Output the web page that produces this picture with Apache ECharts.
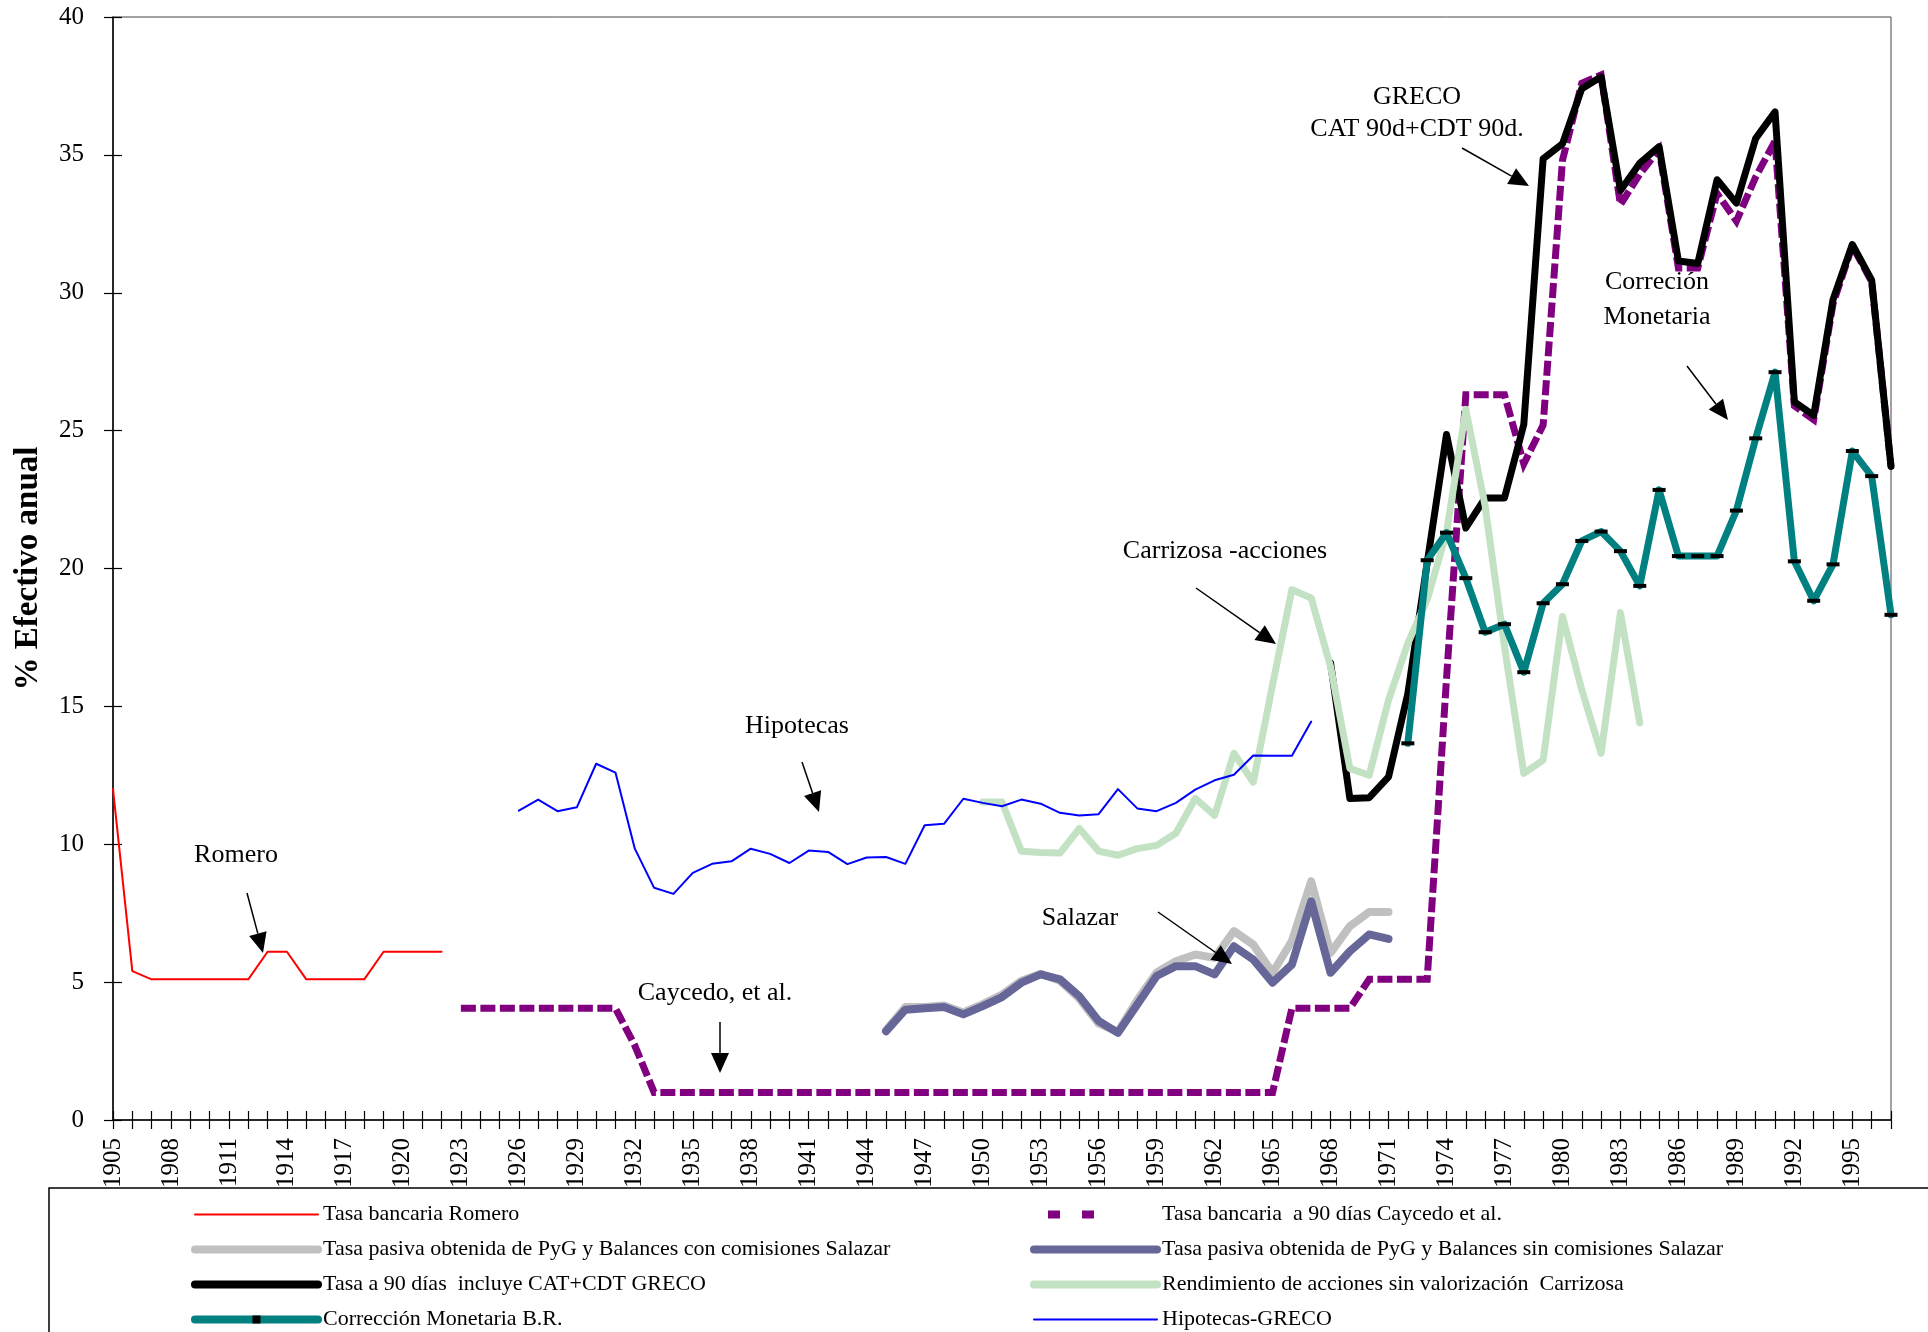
<!DOCTYPE html>
<html>
<head>
<meta charset="utf-8">
<title>Tasas de interés 1905-1997</title>
<script src="https://cdn.jsdelivr.net/npm/echarts@6/dist/echarts.min.js"></script>
<style>
  html, body { margin: 0; padding: 0; background: #fff; }
  #chart { width: 1928px; height: 1332px; }
</style>
</head>
<body>
<div id="chart"></div>
<script>
var firstYear = 1905;
var lastYear = 1997;
var years = [];
for (var y = firstYear; y <= lastYear; y++) years.push(String(y));

// Tasa bancaria Romero (1905-1922)
var romeroStart = 1905;
var romero = [12.0, 5.4, 5.1, 5.1, 5.1, 5.1, 5.1, 5.1, 6.1, 6.1,
              5.1, 5.1, 5.1, 5.1, 6.1, 6.1, 6.1, 6.1];

// Tasa bancaria a 90 dias Caycedo et al. (1923-1997)
var caycedoStart = 1923;
var caycedo = [4.05, 4.05, 4.05, 4.05, 4.05, 4.05, 4.05, 4.05, 4.05, 2.7,
               1.0, 1.0, 1.0, 1.0, 1.0, 1.0, 1.0, 1.0, 1.0, 1.0,
               1.0, 1.0, 1.0, 1.0, 1.0, 1.0, 1.0, 1.0, 1.0, 1.0,
               1.0, 1.0, 1.0, 1.0, 1.0, 1.0, 1.0, 1.0, 1.0, 1.0,
               1.0, 1.0, 1.0, 4.05, 4.05, 4.05, 4.05, 5.1, 5.1, 5.1,
               5.1, 16.0, 26.3, 26.3, 26.3, 23.8, 25.2, 34.8, 37.6, 37.9,
               33.2, 34.3, 35.2, 30.9, 30.9, 33.6, 32.6, 34.2, 35.5, 25.9,
               25.4, 29.6, 31.7, 30.4, 23.7];

// Salazar con comisiones (1945-1971)
var salazarConStart = 1945;
var salazarCon = [3.25, 4.1, 4.1, 4.15, 3.9, 4.2, 4.55, 5.05, 5.3, 5.05,
                  4.4, 3.5, 3.2, 4.35, 5.35, 5.76, 6.0, 5.88, 6.85, 6.36,
                  5.34, 6.49, 8.66, 6.06, 7.03, 7.54, 7.54];

// Salazar sin comisiones (1945-1971)
var salazarSinStart = 1945;
var salazarSin = [3.22, 4.0, 4.05, 4.1, 3.83, 4.13, 4.46, 4.98, 5.28, 5.1,
                  4.49, 3.59, 3.16, 4.19, 5.22, 5.58, 5.58, 5.28, 6.3, 5.82,
                  4.98, 5.64, 7.93, 5.34, 6.12, 6.73, 6.57];

// Tasa a 90 dias CAT+CDT GRECO (1968-1997)
var grecoStart = 1968;
var greco = [16.57, 11.66, 11.69, 12.44, 15.47, 20.2, 24.86, 21.47, 22.56, 22.56,
             25.23, 34.86, 35.4, 37.4, 37.83, 33.71, 34.7, 35.3, 31.15, 31.06,
             34.1, 33.25, 35.6, 36.56, 26.04, 25.55, 29.75, 31.75, 30.46, 23.7];

// Rendimiento de acciones Carrizosa (1950-1984)
var carrizosaStart = 1950;
var carrizosa = [11.53, 11.53, 9.75, 9.7, 9.68, 10.57, 9.75, 9.6, 9.84, 9.96,
                 10.4, 11.66, 11.05, 13.3, 12.25, 15.78, 19.23, 18.93, 16.44, 12.75,
                 12.5, 15.23, 17.29, 18.87, 21.3, 25.77, 22.26, 17.17, 12.57, 13.05,
                 18.26, 15.6, 13.3, 18.4, 14.4];

// Correccion Monetaria B.R. (1972-1997)
var correccionStart = 1972;
var correccion = [13.66, 20.3, 21.3, 19.65, 17.69, 17.98, 16.24, 18.74, 19.43, 21.0,
                  21.34, 20.63, 19.37, 22.85, 20.45, 20.45, 20.45, 22.1, 24.72, 27.12,
                  20.26, 18.83, 20.15, 24.26, 23.35, 18.32];

// Hipotecas GRECO (1926-1967)
var hipotecasStart = 1926;
var hipotecas = [11.22, 11.62, 11.2, 11.34, 12.92, 12.6, 9.84, 8.42, 8.2, 8.96,
                 9.29, 9.38, 9.84, 9.65, 9.32, 9.77, 9.72, 9.28, 9.52, 9.54,
                 9.29, 10.69, 10.74, 11.65, 11.5, 11.38, 11.62, 11.47, 11.14, 11.04,
                 11.09, 12.0, 11.3, 11.2, 11.5, 11.98, 12.32, 12.52, 13.22, 13.21,
                 13.21, 14.45];

var yTicks = { min: 0, max: 40, step: 5 };

// place a series that starts at a given year on the full year axis
function onYears(start, values) {
  var out = [];
  for (var i = 0; i < years.length; i++) {
    var k = firstYear + i - start;
    out.push(k >= 0 && k < values.length ? values[k] : null);
  }
  return out;
}

var serif = '"Liberation Serif", "Times New Roman", serif';

var names = {
  romero: 'Tasa bancaria Romero',
  caycedo: 'Tasa bancaria  a 90 días Caycedo et al.',
  salCon: 'Tasa pasiva obtenida de PyG y Balances con comisiones Salazar',
  salSin: 'Tasa pasiva obtenida de PyG y Balances sin comisiones Salazar',
  greco: 'Tasa a 90 días  incluye CAT+CDT GRECO',
  carrizosa: 'Rendimiento de acciones sin valorización  Carrizosa',
  correccion: 'Corrección Monetaria B.R.',
  hipotecas: 'Hipotecas-GRECO'
};

function lineSeries(name, data, color, width, extra) {
  var s = {
    name: name,
    type: 'line',
    data: data,
    symbol: 'none',
    connectNulls: false,
    silent: true,
    color: color,
    lineStyle: { color: color, width: width, cap: 'round', join: 'round' }
  };
  if (extra) {
    for (var k in extra) s[k] = extra[k];
  }
  return s;
}

// annotations: label text and arrow (pixel layout)
var notes = [
  { text: 'Romero', x: 236, y: 855, lh: 30, from: [247, 893], to: [263, 953] },
  { text: 'Hipotecas', x: 797, y: 726, lh: 30, from: [802, 762], to: [819, 812] },
  { text: 'Caycedo, et al.', x: 715, y: 993, lh: 30, from: [720, 1022], to: [720, 1073] },
  { text: 'Salazar', x: 1080, y: 918, lh: 30, from: [1158, 912], to: [1232, 964] },
  { text: 'Carrizosa -acciones', x: 1225, y: 551, lh: 30, from: [1196, 588], to: [1276, 644] },
  { text: 'GRECO\nCAT 90d+CDT 90d.', x: 1417, y: 113, lh: 32, from: [1462, 148], to: [1529, 186] },
  { text: 'Correción\nMonetaria', x: 1657, y: 300, lh: 35, from: [1687, 366], to: [1728, 420] }
];

function arrow(p1, p2) {
  var dx = p2[0] - p1[0], dy = p2[1] - p1[1];
  var len = Math.sqrt(dx * dx + dy * dy);
  var ux = dx / len, uy = dy / len;
  var hl = 20, hw = 9;
  var bx = p2[0] - ux * hl, by = p2[1] - uy * hl;
  return [
    { type: 'line', silent: true, z: 10,
      shape: { x1: p1[0], y1: p1[1], x2: bx, y2: by },
      style: { stroke: '#000', lineWidth: 1.5 } },
    { type: 'polygon', silent: true, z: 10,
      shape: { points: [[p2[0], p2[1]], [bx - uy * hw, by + ux * hw], [bx + uy * hw, by - ux * hw]] },
      style: { fill: '#000' } }
  ];
}

var graphics = [
  { type: 'rect', silent: true, z: 0,
    shape: { x: 49, y: 1188, width: 1900, height: 200 },
    style: { fill: 'none', stroke: '#000', lineWidth: 1.5 } }
];
notes.forEach(function (n) {
  graphics.push({
    type: 'text', silent: true, z: 10,
    style: { text: n.text, x: n.x, y: n.y, fill: '#000', fontSize: 26, fontFamily: serif,
             align: 'center', verticalAlign: 'middle', lineHeight: n.lh }
  });
  arrow(n.from, n.to).forEach(function (g) { graphics.push(g); });
});

var legendText = { color: '#000', fontSize: 22, fontFamily: serif, lineHeight: 23 };
var noMark = { opacity: 0 };

var option = {
  backgroundColor: '#fff',
  animation: false,
  grid: { left: 113, right: 37, top: 17, bottom: 212, show: true, borderColor: '#444', borderWidth: 1 },
  legend: [
    {
      orient: 'vertical', left: 191, top: 1203, padding: 0, itemWidth: 123, itemHeight: 10, itemGap: 12,
      selectedMode: false, textStyle: legendText, itemStyle: noMark,
      data: [
        { name: names.romero, lineStyle: { width: 2 } },
        { name: names.salCon, lineStyle: { width: 8 } },
        { name: names.greco, lineStyle: { width: 8 } },
        { name: names.correccion, lineStyle: { width: 8 }, itemStyle: { opacity: 1 } }
      ]
    },
    {
      orient: 'vertical', left: 1030, top: 1203, padding: 0, itemWidth: 123, itemHeight: 10, itemGap: 12,
      selectedMode: false, textStyle: legendText, itemStyle: noMark,
      data: [
        { name: names.caycedo, lineStyle: { width: 8, type: [0.01, 14, 12, 22, 12, 300], cap: 'butt' } },
        { name: names.salSin, lineStyle: { width: 8 } },
        { name: names.carrizosa, lineStyle: { width: 8 } },
        { name: names.hipotecas, lineStyle: { width: 2 } }
      ]
    }
  ],
  xAxis: [
    {
      type: 'category', data: years, boundaryGap: false,
      axisLine: { lineStyle: { color: '#000', width: 1.5 } },
      axisTick: { interval: 0, length: 9, lineStyle: { color: '#000', width: 1.2 } },
      axisLabel: { interval: 2, rotate: 90, margin: 18, color: '#000', fontSize: 25, fontFamily: serif },
      splitLine: { show: false }
    },
    {
      type: 'category', data: years, boundaryGap: false, position: 'bottom',
      axisLine: { show: false },
      axisTick: { interval: 0, inside: true, length: 9, lineStyle: { color: '#000', width: 1.2 } },
      axisLabel: { show: false },
      splitLine: { show: false }
    }
  ],
  yAxis: [
    {
      type: 'value', min: yTicks.min, max: yTicks.max, interval: yTicks.step,
      name: '% Efectivo anual', nameLocation: 'middle', nameRotate: 90, nameGap: 68,
      nameTextStyle: { color: '#000', fontSize: 33, fontWeight: 'bold', fontFamily: serif },
      axisLine: { show: true, lineStyle: { color: '#000', width: 1.5 } },
      axisTick: { show: true, length: 9, lineStyle: { color: '#000', width: 1.2 } },
      axisLabel: { margin: 29, color: '#000', fontSize: 25, fontFamily: serif },
      splitLine: { show: false }
    },
    {
      type: 'value', min: yTicks.min, max: yTicks.max, interval: yTicks.step, position: 'left',
      axisLine: { show: false },
      axisTick: { show: true, inside: true, length: 9, lineStyle: { color: '#000', width: 1.2 } },
      axisLabel: { show: false },
      splitLine: { show: false }
    }
  ],
  graphic: graphics,
  series: [
    lineSeries(names.romero, onYears(romeroStart, romero), '#FF0000', 2),
    lineSeries(names.caycedo, onYears(caycedoStart, caycedo), '#800080', 7, {
      lineStyle: { color: '#800080', width: 7, type: [15, 4.5], cap: 'butt', join: 'miter' }
    }),
    lineSeries(names.salCon, onYears(salazarConStart, salazarCon), '#C0C0C0', 8),
    lineSeries(names.salSin, onYears(salazarSinStart, salazarSin), '#666699', 8),
    lineSeries(names.greco, onYears(grecoStart, greco), '#000000', 7),
    lineSeries(names.carrizosa, onYears(carrizosaStart, carrizosa), '#C3E1C3', 7),
    lineSeries(names.correccion, onYears(correccionStart, correccion), '#008080', 7, {
      symbol: 'rect', symbolSize: [13, 4], showSymbol: true,
      itemStyle: { color: '#000' }
    }),
    lineSeries(names.hipotecas, onYears(hipotecasStart, hipotecas), '#0000FF', 2)
  ]
};

var chart = echarts.init(document.getElementById('chart'), null, { renderer: 'canvas' });
chart.setOption(option);
</script>
</body>
</html>
